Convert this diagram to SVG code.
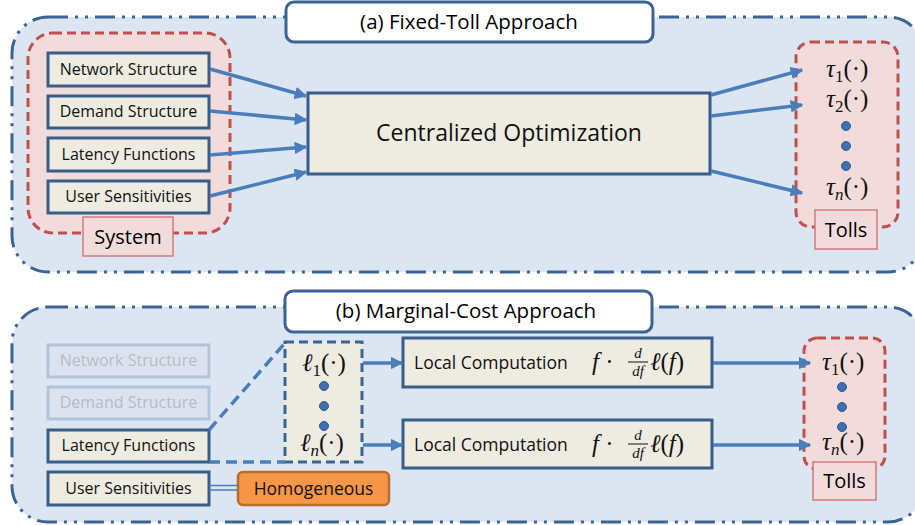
<svg xmlns="http://www.w3.org/2000/svg" width="915" height="525" viewBox="0 0 915 525">
<defs>
<style>
.panel{fill:#DCE6F2;stroke:#3B6494;stroke-width:3;stroke-dasharray:20 7 3 7 3 7}
.title{fill:#fff;stroke:#3B6494;stroke-width:3}
.ttl{font-family:"Open Sans","Liberation Sans",sans-serif;font-size:20.5px;fill:#000;text-anchor:middle}
.inbox{fill:#EEECE1;stroke:#385D8A;stroke-width:3}
.fbox{fill:#DCE3EE;stroke:#B3C3DA;stroke-width:3}
.lbl{font-family:"Open Sans","Liberation Sans",sans-serif;font-size:16px;fill:#111;text-anchor:middle}
.flbl{font-family:"Open Sans","Liberation Sans",sans-serif;font-size:16px;fill:#B3BCC8;text-anchor:middle}
.grp{fill:#F2DCDB;stroke:#C0504D;stroke-width:3;stroke-dasharray:9 5}
.tag{fill:#F2DCDB;stroke:#D4797A;stroke-width:1.5}
.tagt{font-family:"Open Sans","Liberation Sans",sans-serif;font-size:20px;fill:#000;text-anchor:middle}
.conn{stroke:#4A7EBB;stroke-width:3.5;fill:none}
.math{font-family:"Liberation Serif","DejaVu Serif",serif;font-size:25px;fill:#111}
.frac{font-family:"Liberation Serif","DejaVu Serif",serif;font-size:15px;font-style:italic;fill:#111;text-anchor:middle}
.mi{font-style:italic}
.sub{font-size:17px}
.dot{fill:#3F6FAE;stroke:#2C5A94;stroke-width:1}
.lc{font-family:"Open Sans","Liberation Sans",sans-serif;font-size:17.5px;fill:#111}
</style>
<marker id="ah" viewBox="0 0 10 10" refX="9" refY="5" markerWidth="3.6" markerHeight="3.6" orient="auto" markerUnits="strokeWidth">
<path d="M0,0 L10,5 L0,10 z" fill="#4A7EBB"/>
</marker>
</defs>

<!-- Panel A -->
<g id="panelA">
<rect class="panel" x="12" y="17" width="912" height="255" rx="36"/>
</g>
<g id="titleA">
<rect class="title" x="286" y="2" width="367" height="40" rx="8"/>
<text class="ttl" x="469" y="29">(a) Fixed-Toll Approach</text>
</g>
<g id="systemA">
<rect class="grp" x="28" y="33" width="202" height="200" rx="25"/>
</g>
<g id="netA"><rect class="inbox" x="48" y="53" width="161" height="33"/><text class="lbl" x="128.5" y="75">Network Structure</text></g>
<g id="demA"><rect class="inbox" x="48" y="96" width="161" height="32"/><text class="lbl" x="128.5" y="117">Demand Structure</text></g>
<g id="latA"><rect class="inbox" x="48" y="138" width="161" height="33"/><text class="lbl" x="128.5" y="160">Latency Functions</text></g>
<g id="usrA"><rect class="inbox" x="48" y="181" width="161" height="32"/><text class="lbl" x="128.5" y="202">User Sensitivities</text></g>
<g id="systemTag"><rect class="tag" x="83" y="217" width="90" height="39"/><text class="tagt" x="128" y="244">System</text></g>
<g id="central"><rect class="inbox" x="308" y="93" width="402" height="81"/><text x="509" y="141" style="font-family:'Open Sans','Liberation Sans',sans-serif;font-size:23px;fill:#111;text-anchor:middle">Centralized Optimization</text></g>
<g id="tollsA">
<rect class="grp" x="796" y="42" width="102" height="185" rx="15"/>
<text class="math" x="826" y="77"><tspan class="mi">τ</tspan><tspan class="sub" dy="5">1</tspan><tspan dy="-5">(·)</tspan></text>
<text class="math" x="826" y="107"><tspan class="mi">τ</tspan><tspan class="sub" dy="5">2</tspan><tspan dy="-5">(·)</tspan></text>
<circle class="dot" cx="846" cy="126" r="4.5"/>
<circle class="dot" cx="846" cy="146" r="4.5"/>
<circle class="dot" cx="846" cy="166" r="4.5"/>
<text class="math" x="826" y="195"><tspan class="mi">τ</tspan><tspan class="mi sub" dy="5">n</tspan><tspan dy="-5">(·)</tspan></text>
</g>
<g id="tollsTagA"><rect class="tag" x="815" y="210" width="62" height="39"/><text class="tagt" x="846" y="237">Tolls</text></g>

<!-- Panel B -->
<g id="panelB">
<rect class="panel" x="12" y="307" width="912" height="215" rx="36"/>
</g>
<g id="titleB">
<rect class="title" x="285" y="291" width="367" height="41" rx="8"/>
<text class="ttl" x="466" y="318">(b) Marginal-Cost Approach</text>
</g>
<g id="netB"><rect class="fbox" x="48" y="345" width="161" height="32"/><text class="flbl" x="128.5" y="366">Network Structure</text></g>
<g id="demB"><rect class="fbox" x="48" y="387" width="161" height="32"/><text class="flbl" x="128.5" y="408">Demand Structure</text></g>
<g id="latB"><rect class="inbox" x="48" y="430" width="161" height="32"/><text class="lbl" x="128.5" y="451">Latency Functions</text></g>
<g id="usrB"><rect class="inbox" x="48" y="472" width="161" height="33"/><text class="lbl" x="128.5" y="494">User Sensitivities</text></g>
<g id="homog"><rect x="238" y="472" width="151" height="33" rx="5" fill="#F79646" stroke="#B66D31" stroke-width="2.5"/><text x="313.5" y="495" style="font-family:'Open Sans','Liberation Sans',sans-serif;font-size:17.5px;fill:#111;text-anchor:middle">Homogeneous</text></g>
<g id="ellBox">
<rect x="285" y="342" width="77" height="120" fill="#EEECE1" stroke="#3B6494" stroke-width="3" stroke-dasharray="9 5"/>
<text class="math" x="302" y="371"><tspan class="mi">ℓ</tspan><tspan class="sub" dy="5">1</tspan><tspan dy="-5">(·)</tspan></text>
<circle class="dot" cx="324" cy="386" r="4.5"/>
<circle class="dot" cx="324" cy="406" r="4.5"/>
<circle class="dot" cx="324" cy="426" r="4.5"/>
<text class="math" x="300" y="451"><tspan class="mi">ℓ</tspan><tspan class="mi sub" dy="5">n</tspan><tspan dy="-5">(·)</tspan></text>
</g>
<g id="local1"><rect class="inbox" x="403" y="338" width="309" height="49"/>
<text class="lc" x="414" y="369">Local Computation</text>
<text class="math" x="592" y="370"><tspan class="mi">f</tspan> ·</text>
<text class="frac" x="638" y="358">d</text>
<line x1="628" y1="362" x2="648" y2="362" stroke="#111" stroke-width="1"/>
<text class="frac" x="638" y="376">df</text>
<text class="math" x="650" y="370"><tspan class="mi">ℓ</tspan>(<tspan class="mi">f</tspan>)</text>
</g>
<g id="local2"><rect class="inbox" x="403" y="420" width="309" height="48"/>
<text class="lc" x="414" y="451">Local Computation</text>
<text class="math" x="592" y="452"><tspan class="mi">f</tspan> ·</text>
<text class="frac" x="638" y="440">d</text>
<line x1="628" y1="444" x2="648" y2="444" stroke="#111" stroke-width="1"/>
<text class="frac" x="638" y="458">df</text>
<text class="math" x="650" y="452"><tspan class="mi">ℓ</tspan>(<tspan class="mi">f</tspan>)</text>
</g>
<g id="tollsB">
<rect class="grp" x="804" y="338" width="81" height="131" rx="13"/>
<text class="math" x="822" y="370"><tspan class="mi">τ</tspan><tspan class="sub" dy="5">1</tspan><tspan dy="-5">(·)</tspan></text>
<circle class="dot" cx="842" cy="387" r="4.5"/>
<circle class="dot" cx="842" cy="407" r="4.5"/>
<circle class="dot" cx="842" cy="427" r="4.5"/>
<text class="math" x="822" y="450"><tspan class="mi">τ</tspan><tspan class="mi sub" dy="5">n</tspan><tspan dy="-5">(·)</tspan></text>
</g>
<g id="tollsTagB"><rect class="tag" x="813" y="462" width="63" height="38"/><text class="tagt" x="844.5" y="488">Tolls</text></g>

<!-- Connectors -->
<g id="connectors">
<line class="conn" x1="210" y1="69" x2="306" y2="96" marker-end="url(#ah)"/>
<line class="conn" x1="210" y1="111" x2="306" y2="120" marker-end="url(#ah)"/>
<line class="conn" x1="210" y1="155" x2="306" y2="147" marker-end="url(#ah)"/>
<line class="conn" x1="210" y1="196" x2="306" y2="172" marker-end="url(#ah)"/>
<line class="conn" x1="711" y1="95" x2="802" y2="70" marker-end="url(#ah)"/>
<line class="conn" x1="711" y1="116" x2="802" y2="105" marker-end="url(#ah)"/>
<line class="conn" x1="711" y1="171" x2="802" y2="193" marker-end="url(#ah)"/>
<line class="conn" x1="209" y1="430" x2="285" y2="343" stroke-dasharray="11 6"/>
<line class="conn" x1="209" y1="462" x2="285" y2="462" stroke-dasharray="11 6"/>
<line class="conn" x1="363" y1="363" x2="402" y2="363" marker-end="url(#ah)"/>
<line class="conn" x1="363" y1="445" x2="402" y2="445" marker-end="url(#ah)"/>
<line class="conn" x1="713" y1="363" x2="810" y2="363" marker-end="url(#ah)"/>
<line class="conn" x1="713" y1="445" x2="810" y2="445" marker-end="url(#ah)"/>
<line x1="209" y1="485.5" x2="238" y2="485.5" stroke="#4A7EBB" stroke-width="1.5"/>
<line x1="209" y1="490" x2="238" y2="490" stroke="#4A7EBB" stroke-width="1.5"/>
</g>
</svg>
